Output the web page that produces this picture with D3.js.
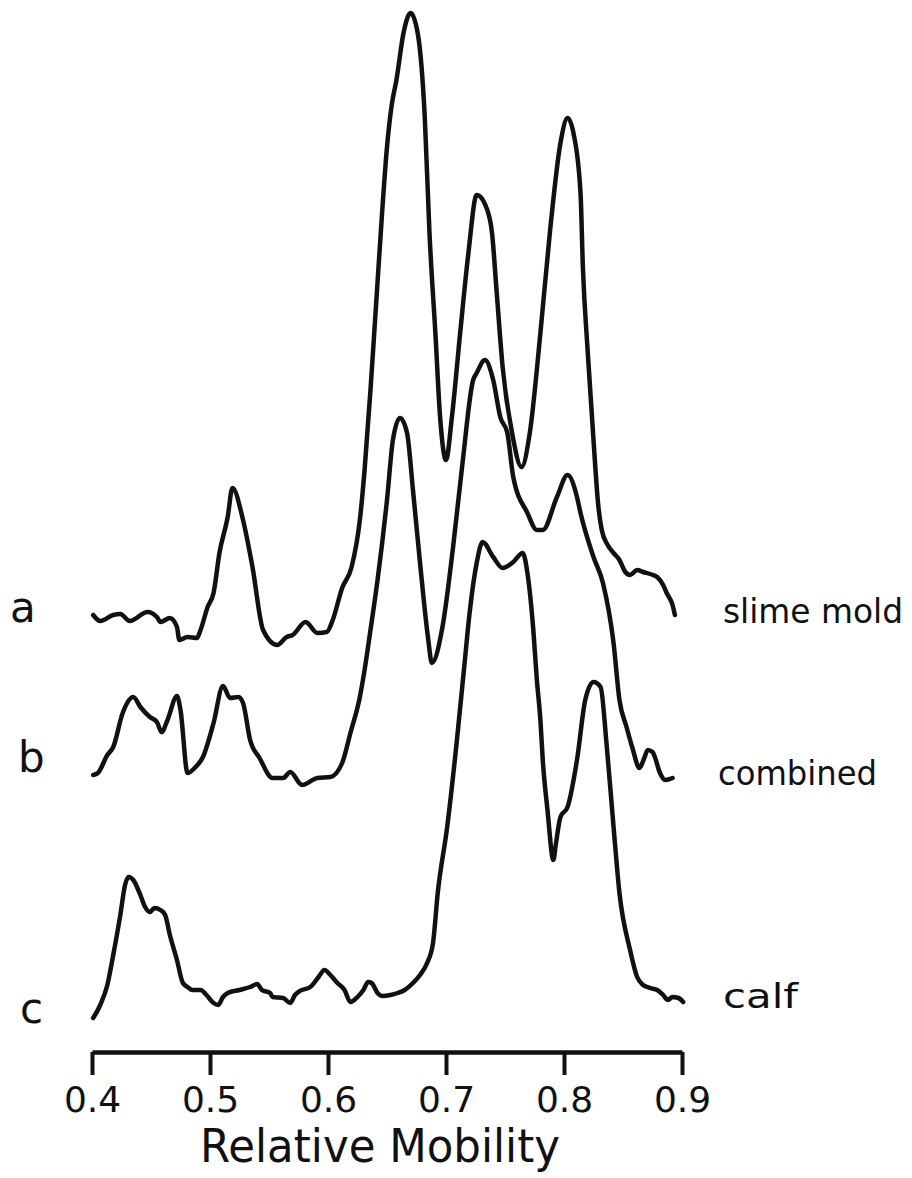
<!DOCTYPE html>
<html>
<head>
<meta charset="utf-8">
<script src="https://cdn.jsdelivr.net/npm/d3@7"></script>
<style>
  body { margin: 0; background: #fff; }
  text { font-family: "DejaVu Sans", sans-serif; fill: #111; }
</style>
</head>
<body>
<svg id="chart" width="912" height="1178"></svg>
<script>
(function() {

// densitometer traces (mobility, signal above own baseline)
var mob_a = [0.401,0.407,0.418,0.424,0.432,0.447,0.455,0.458,0.466,0.472,0.474,0.481,0.489,0.492,0.498,0.503,0.508,0.515,0.519,0.528,0.536,0.545,0.557,0.565,0.570,0.581,0.591,0.599,0.604,0.612,0.620,0.627,0.631,0.636,0.641,0.646,0.650,0.654,0.658,0.664,0.670,0.676,0.682,0.686,0.691,0.695,0.700,0.705,0.712,0.719,0.726,0.735,0.739,0.743,0.748,0.756,0.764,0.771,0.780,0.788,0.797,0.803,0.808,0.814,0.816,0.820,0.825,0.829,0.832,0.837,0.842,0.847,0.852,0.856,0.862,0.867,0.873,0.879,0.884,0.887,0.892,0.894]
var sig_a = [0.5,-0.1,0.5,0.6,-0.1,0.8,0.3,-0.2,0.2,-0.7,-2.0,-1.7,-1.8,-1.0,1.3,2.7,6.7,10.3,13.2,10.0,5.3,-1.0,-2.5,-1.7,-1.5,-0.2,-1.3,-1.2,0.0,3.2,5.3,10.0,15.0,23.0,32.0,41.0,47.3,51.5,54.0,58.7,60.7,58.7,50.3,38.7,28.7,20.3,16.0,20.3,28.7,36.7,42.5,41.0,38.7,32.7,25.3,18.7,15.3,18.7,28.7,38.7,47.7,50.2,48.7,42.7,35.3,27.0,18.0,11.5,9.0,7.5,6.7,6.0,4.8,4.5,5.0,4.8,4.6,4.3,3.5,2.7,1.5,0.5]

var mob_b = [0.401,0.405,0.413,0.418,0.426,0.435,0.441,0.449,0.455,0.459,0.464,0.472,0.475,0.481,0.487,0.494,0.503,0.511,0.517,0.524,0.528,0.534,0.542,0.553,0.562,0.568,0.578,0.591,0.602,0.612,0.619,0.627,0.631,0.636,0.642,0.650,0.655,0.661,0.667,0.672,0.678,0.685,0.688,0.697,0.706,0.714,0.723,0.726,0.733,0.740,0.746,0.752,0.757,0.769,0.777,0.782,0.794,0.803,0.811,0.814,0.825,0.833,0.842,0.847,0.853,0.858,0.864,0.868,0.871,0.875,0.877,0.881,0.886,0.892]
var sig_b = [0.3,0.5,2.3,3.1,6.5,8.1,7.1,6.1,5.6,4.6,5.8,8.2,6.8,0.5,1.0,2.1,5.5,9.2,8.0,8.1,7.5,3.8,2.0,0.0,0.0,0.6,-0.7,0.0,0.1,1.5,4.5,8.1,10.8,14.8,19.8,27.8,33.8,36.0,34.5,28.8,21.5,13.8,11.5,15.1,23.1,31.5,39.8,40.5,41.8,39.8,36.1,34.5,30.1,26.5,24.8,24.8,28.1,30.3,28.1,26.5,22.1,19.5,13.5,7.8,5.1,3.0,1.0,2.0,2.8,2.6,2.1,0.6,-0.2,0.0]

var mob_c = [0.401,0.407,0.413,0.418,0.424,0.428,0.431,0.435,0.441,0.445,0.449,0.453,0.458,0.462,0.466,0.472,0.477,0.481,0.485,0.492,0.497,0.503,0.507,0.511,0.515,0.525,0.534,0.540,0.544,0.551,0.553,0.562,0.568,0.572,0.576,0.585,0.592,0.597,0.602,0.608,0.614,0.619,0.625,0.630,0.634,0.637,0.642,0.646,0.653,0.659,0.665,0.672,0.678,0.684,0.689,0.693,0.701,0.709,0.716,0.720,0.726,0.731,0.740,0.748,0.757,0.765,0.769,0.774,0.777,0.780,0.782,0.786,0.791,0.793,0.797,0.803,0.811,0.818,0.825,0.831,0.836,0.842,0.847,0.856,0.862,0.867,0.873,0.879,0.884,0.888,0.892,0.897,0.901]
var sig_c = [-1.8,-0.5,1.5,4.5,8.5,11.5,12.3,12.0,10.5,9.3,8.8,9.2,9.0,8.5,6.5,4.0,1.7,1.3,1.0,1.0,0.5,-0.3,-0.5,0.3,0.7,1.0,1.3,1.6,1.0,0.7,0.3,0.2,-0.3,0.5,0.9,1.3,2.3,3.0,2.5,1.7,1.0,-0.2,0.3,1.0,1.8,1.7,0.7,0.4,0.5,0.7,1.0,1.7,2.5,3.7,5.7,10.7,17.3,25.7,34.0,38.7,43.7,45.8,44.3,43.2,43.8,44.7,42.7,37.0,32.0,28.0,24.0,19.0,14.0,15.5,18.3,19.3,24.0,30.0,31.8,31.3,25.7,17.3,10.7,5.0,2.3,1.5,1.2,1.0,0.5,0.0,0.3,0.2,-0.2]

var trace_keys = ["a", "b", "c"]
var trace_names = ["slime mold", "combined", "calf"]
var trace_offsets = [43.2, 27.4, 5.2]
var x_ticks = [0.4, 0.5, 0.6, 0.7, 0.8, 0.9]
var x_title = "Relative Mobility"

var traces = [
    {key: trace_keys[0], name: trace_names[0], offset: trace_offsets[0], pts: d3.zip(mob_a, sig_a)},
    {key: trace_keys[1], name: trace_names[1], offset: trace_offsets[1], pts: d3.zip(mob_b, sig_b)},
    {key: trace_keys[2], name: trace_names[2], offset: trace_offsets[2], pts: d3.zip(mob_c, sig_c)}
]

var svg = d3.select("#chart")

var x = d3.scaleLinear().domain([0.4, 0.9]).range([92, 682])
var y = d3.scaleLinear().domain([0, 100]).range([1052, 52])

var line = d3.line()
    .x(d => x(d[0]))
    .curve(d3.curveMonotoneX)

svg.selectAll("path.trace")
    .data(traces)
    .join("path")
    .attr("class", "trace")
    .attr("d", t => line.y(d => y(d[1] + t.offset))(t.pts))
    .attr("fill", "none")
    .attr("stroke", "#111")
    .attr("stroke-width", 4.5)
    .attr("stroke-linejoin", "round")
    .attr("stroke-linecap", "round")

// left letters
var letter_pos = {a: [10, 622], b: [18, 772], c: [20, 1023]}
svg.selectAll("text.letter")
    .data(traces)
    .join("text")
    .attr("class", "letter")
    .attr("x", t => letter_pos[t.key][0])
    .attr("y", t => letter_pos[t.key][1])
    .attr("font-size", 42)
    .text(t => t.key)

// right names
var name_pos = {a: [723, 623, 180], b: [718, 785, 159], c: [723, 1008, 75]}
svg.selectAll("text.name")
    .data(traces)
    .join("text")
    .attr("class", "name")
    .attr("x", t => name_pos[t.key][0])
    .attr("y", t => name_pos[t.key][1])
    .attr("font-size", 34)
    .attr("textLength", t => name_pos[t.key][2])
    .attr("lengthAdjust", "spacingAndGlyphs")
    .text(t => t.name)

var axis = svg.append("g")
    .attr("transform", "translate(0,1052)")
    .call(d3.axisBottom(x)
        .tickValues(x_ticks)
        .tickFormat(d3.format(".1f"))
        .tickSizeInner(23)
        .tickSizeOuter(0)
        .tickPadding(11))

axis.select(".domain").attr("stroke", "#111").attr("stroke-width", 4.5)
axis.selectAll(".tick line").attr("stroke", "#111").attr("stroke-width", 4)
axis.selectAll(".tick text")
    .attr("font-size", 36)
    .attr("font-family", "DejaVu Sans, sans-serif")
    .attr("fill", "#111")

svg.append("text")
    .attr("x", 200)
    .attr("y", 1162)
    .attr("font-size", 46)
    .attr("textLength", 360)
    .attr("lengthAdjust", "spacingAndGlyphs")
    .text(x_title)

})()
</script>
</body>
</html>
